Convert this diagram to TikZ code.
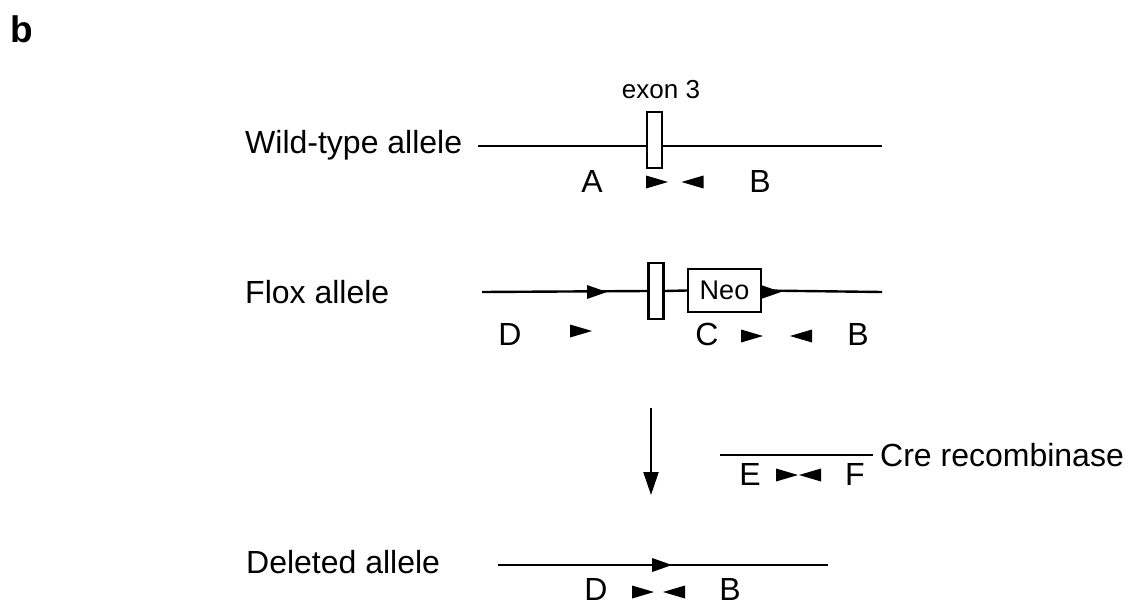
\documentclass[tikz,border=0pt]{standalone}
\usepackage{fontspec}
\setmainfont{Liberation Sans}
\usetikzlibrary{arrows.meta}
\begin{document}
\begin{tikzpicture}[x=1pt,y=-1pt,
  dna/.style={line width=2.4pt},
  lab/.style={font=\fontsize{32}{32}\selectfont, anchor=base, inner sep=0pt},
  title/.style={font=\fontsize{32}{32}\selectfont, anchor=base west, inner sep=0pt},
  small/.style={font=\fontsize{26}{26}\selectfont, inner sep=0pt},
  exonbox/.style={draw, line width=2.2pt, minimum width=15pt, minimum height=56pt, inner sep=0pt, fill=white},
  neobox/.style={draw, line width=2.2pt, minimum width=73pt, minimum height=43pt, inner sep=0pt, fill=white, font=\fontsize{27}{27}\selectfont},
  pr/.pic={\fill (-11,-6.5) -- (11,0) -- (-11,6.5) -- cycle;},
  pl/.pic={\fill (11,-6.5) -- (-11,0) -- (11,6.5) -- cycle;},
  lox/.pic={\fill (-10,-7) -- (10,0) -- (-10,7) -- cycle;}
]
\useasboundingbox (0,0) rectangle (1147,605);

% panel label
\node[font=\fontsize{37}{37}\selectfont\bfseries, anchor=base west, inner sep=0pt] (panel) at (10,42) {b};

% Wild-type allele
\node[title] (wtlab) at (245,153) {Wild-type allele};
\coordinate (wtL) at (478,146);
\coordinate (wtR) at (882,146);
\draw[dna] (wtL) -- (wtR);
\node[exonbox] (wtex) at (654.5,140) {};
\node[small] (exlab) at (661,90) {exon 3};
\node[lab] (wtA) at (592,192) {A};
\node[lab] (wtB) at (760,192) {B};
\pic at (657,182) {pr};
\pic at (692.5,182) {pl};

% Flox allele
\node[title] (fxlab) at (245,303) {Flox allele};
\coordinate (fxL) at (482,292);
\coordinate (fxR) at (882,292);
\node[exonbox] (fxex) at (656,291) {};
\node[neobox] (neo) at (724.5,290.5) {Neo};
\draw[dna] (fxL) -- (fxex.west);
\draw[dna] (fxex.east) -- (neo.west);
\draw[dna] (neo.east) -- (fxR);
\pic at (597,292) {lox};
\pic at (771,292) {lox};
\node[lab] (fxD) at (510,345) {D};
\node[lab] (fxC) at (707,345) {C};
\node[lab] (fxB) at (858,345) {B};
\pic at (581,331) {pr};
\pic at (752,336) {pr};
\pic at (801,336) {pl};

% arrow
\coordinate (arT) at (651,408);
\coordinate (arB) at (651,495);
\draw[line width=2.2pt, -{Triangle[width=15pt,length=23pt]}] (arT) -- (arB);

% Cre recombinase
\coordinate (crL) at (720,455);
\coordinate (crR) at (873,455);
\draw[dna] (crL) -- (crR);
\node[title] (crlab) at (880,466) {Cre recombinase};
\node[lab] (crE) at (750,485) {E};
\node[lab] (crF) at (855,485) {F};
\pic at (787,475) {pr};
\pic at (810,475) {pl};

% Deleted allele
\node[title] (dllab) at (246,573) {Deleted allele};
\coordinate (dlL) at (498,565);
\coordinate (dlR) at (828,565);
\draw[dna] (dlL) -- (dlR);
\pic at (662,565) {lox};
\node[lab] (dlD) at (596,600) {D};
\node[lab] (dlB) at (730,600) {B};
\pic at (643,592) {pr};
\pic at (674,592) {pl};
\end{tikzpicture}
\end{document}
